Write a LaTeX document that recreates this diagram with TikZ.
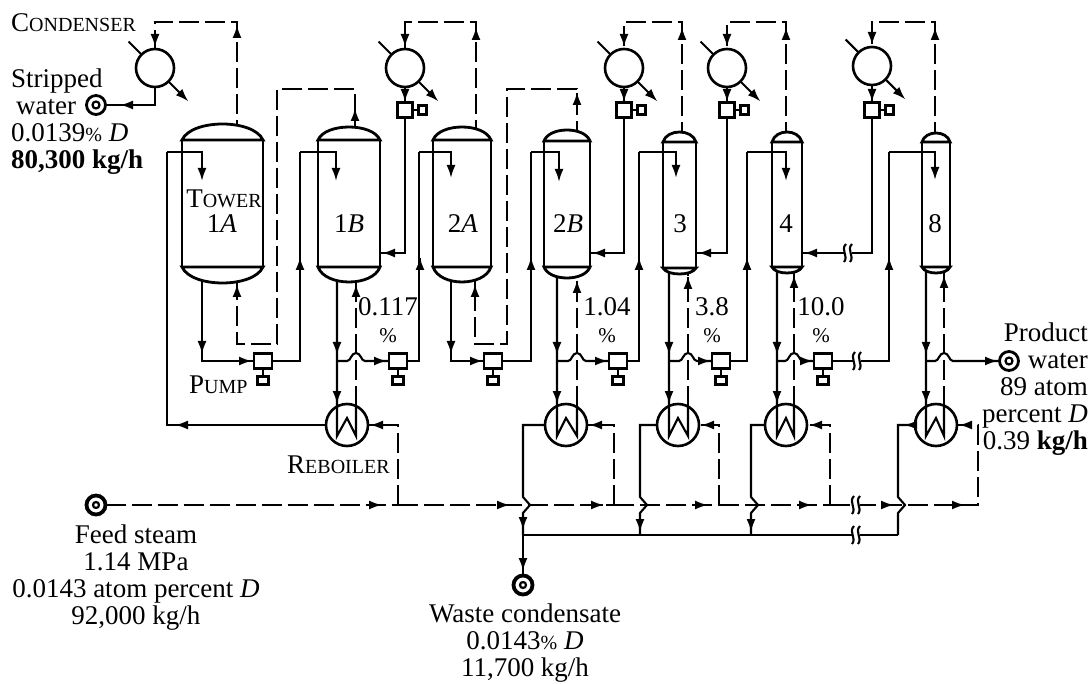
\documentclass[tikz,border=0pt]{standalone}
\usepackage{fontspec}
\setmainfont{Liberation Serif}
\usetikzlibrary{positioning, arrows.meta, backgrounds}
\newcommand{\capword}[2]{{\fontsize{27}{27}\selectfont #1\fontsize{20}{20}\selectfont #2}}
\newcommand{\pct}{{\fontsize{20}{20}\selectfont\%}}
\tikzset{
  pipe/.style={line width=2.1pt},
  steam/.style={line width=2.1pt, dash pattern=on 20pt off 6pt},
  head/.style={-{Latex[length=13pt,width=9pt]}, line width=2.1pt},
  shell/.style={line width=2.8pt, fill=white},
  towerbody/.style={draw, shell, inner sep=0pt, outer sep=0pt},
  vessel/.style={circle, draw, line width=2.6pt, inner sep=0pt, outer sep=0pt, minimum size=#1},
  pumpbox/.style={draw, line width=2.8pt, fill=white, inner sep=0pt, outer sep=0pt, minimum width=18pt, minimum height=15pt},
  motorbox/.style={draw, line width=2.8pt, fill=white, inner sep=0pt, outer sep=0pt, minimum width=11pt, minimum height=8pt},
  target/.style={circle, draw, line width=2.8pt, inner sep=0pt, outer sep=0pt, minimum size=19pt},
  bullseye/.style={circle, draw, line width=2.2pt, inner sep=0pt, minimum size=7pt},
  lbl/.style={font=\fontsize{27}{27}\selectfont, inner sep=0pt, anchor=base},
  block/.style={lbl, align=#1},
  gapmark/.pic={
    \fill[white] (-4,-8) rectangle (4,8);
    \draw[pipe] (-2,-9) .. controls (-8,-3) and (1,3) .. (-4,9);
    \draw[pipe] (4,-9) .. controls (-2,-3) and (7,3) .. (2,9);
  }
}

\begin{document}
\begin{tikzpicture}[x=1pt, y=-1pt]
  \useasboundingbox (0,0) rectangle (1092,684);

  % towers
  \foreach \nm/\xl/\xr/\yt/\yl/\yb/\yo/\xm/\lab in {
      1A/182/263/124/140/267/283/222/1\textit{A},
      1B/318/380/127/140/267/282/349/1\textit{B},
      2A/433/491/127/140/267/282/463/2\textit{A},
      2B/544/590/130/141/267/278/568/2\textit{B},
      3/663/696/132/142/268/274/680/3,
      4/772/802/132/142/267/273/786/4,
      8/922/950/133/142/267/273/935/8} {
    \pgfmathsetmacro{\dm}{(\yl-\yt)*4/3}
    \pgfmathsetmacro{\dn}{(\yo-\yb)*4/3}
    \pgfmathsetmacro{\dw}{(\xr-\xl)*0.12}
    \node[towerbody, minimum width={(\xr-\xl)*1pt}, minimum height={(\yb-\yl)*1pt}]
      (T\nm) at ({(\xl+\xr)/2},{(\yl+\yb)/2}) {};
    \draw[shell] (T\nm.north west) .. controls +(\dw,-\dm) and +(-\dw,-\dm) .. (T\nm.north east) -- cycle;
    \draw[shell] (T\nm.south west) .. controls +(\dw,\dn) and +(-\dw,\dn) .. (T\nm.south east) -- cycle;
    \node[lbl] (L\nm) at (\xm,233) {\lab};
  }
  \node[lbl] (Ltower) at (224,208) {\capword{T}{OWER}};

  % feed into the top of each tower
  \foreach \nm/\xf/\xa/\tp in {1A/167/202/181, 1B/300/336/181, 2A/419/451/178, 2B/531/559/182,
      3/639/676/178, 4/747/786/181, 8/889/935/180} {
    \coordinate (F\nm) at (\xf,152);
    \draw[head] (F\nm) -- (\xa,152) -- (\xa,\tp);
  }

  % pumps under the towers, pumps under the condensers
  \foreach \pn/\x in {P1/263, P2/398, P3/493, P4/618, P5/721, P6/823} {
    \node[pumpbox] (\pn) at (\x,361) {};
    \node[motorbox, below=8pt of \pn] (M\pn) {};
    \draw[pipe] (\pn) -- (M\pn);
  }
  \node[vessel=38pt] (C1A) at (155,68) {};
  \foreach \nm/\x/\y/\tn in {2A/405/68/1B, 3/624/68/2B, 4/727/68/3, 8/872/66/4} {
    \node[vessel=38pt] (C\nm) at (\x,\y) {};
    \node[pumpbox, minimum width=15pt] (Q\nm) at (\x,110) {};
    \node[motorbox, minimum width=8pt, minimum height=9pt, right=6pt of Q\nm] (N\nm) {};
    \draw[pipe] (Q\nm) -- (N\nm);
    \draw[pipe] (C\nm) -- (Q\nm);
    \begin{scope}[on background layer]
      \draw[pipe] (Q\nm) |- (T\tn.east |- 0,253);
    \end{scope}
  }
  \foreach \nm in {1A, 2A, 3, 4, 8} {
    \draw[pipe] (C\nm.135) -- +(-13,-13);
    \draw[head] (C\nm.-45) -- +(20,20);
  }

  % reboilers
  \foreach \nm/\x in {1B/347, 2B/566, 3/678, 4/786, 8/936}
    \node[vessel=42pt] (R\nm) at (\x,425) {};

  \node[target] (Stripped) at (96,105) {};
  \node[bullseye] (Strippedc) at (Stripped) {};
  \node[target] (Product) at (1009,361) {};
  \node[bullseye] (Productc) at (Product) {};
  \node[target, line width=3.8pt] (Feed) at (96,505) {};
  \node[bullseye, minimum size=6pt] (Feedc) at (Feed) {};
  \node[target, line width=3.8pt] (Waste) at (523,585) {};
  \node[bullseye, minimum size=6pt] (Wastec) at (Waste) {};

  \begin{scope}[on background layer]
    % tower bottoms through the reboilers
    \foreach \nm/\x/\xs/\xd in {1B/347/337/356, 2B/566/557/577, 3/678/669/688, 4/786/777/794, 8/936/926/944} {
      \draw[pipe] (\xs,0 |- T\nm.south) -- (\xs,436) -- (\x,418) -- (\xd,436) -- (\xd,406);
      \draw[steam] (\xd,406) -- (\xd,0 |- T\nm.south);
    }
    \foreach \xs/\xd/\dst in {337/356/P2, 557/577/P4, 669/688/P5, 777/794/P6, 926/944/Product}
      \draw[pipe] (\xs,361) -- ({\xd-9},361) .. controls ({\xd-5},361) and ({\xd-5},353) .. (\xd,353)
        .. controls ({\xd+5},353) and ({\xd+5},361) .. ({\xd+9},361) -- (\dst);
    \draw[pipe] (202,0 |- T1A.south) -- (202,361) -- (P1);
    \draw[pipe] (451,0 |- T2A.south) -- (451,361) -- (P3);
    \foreach \pn/\nm in {P1/1B, P2/2A, P3/2B, P4/3, P5/4, P6/8}
      \draw[pipe] (\pn) -| (F\nm);
    \draw[pipe] (R1B) -| (F1A);

    % overhead
    \draw[steam] (355,0 |- T1B.north) -- (355,89) -- (277,89) -- (277,344) -- (237,344) -- (237,0 |- T1A.south);
    \draw[steam] (577,0 |- T2B.north) -- (577,89) -- (507,89) -- (507,344) -- (475,344) -- (475,0 |- T2A.south);
    \foreach \nm/\cn/\x/\xc in {1A/1A/237/155, 2A/2A/476/405, 3/3/682/624, 4/4/786/727, 8/8/935/872}
      \draw[steam] (\x,0 |- T\nm.north) -- (\x,22) -- (\xc,22) -- (C\cn);
    \draw[pipe] (C1A) -- (155,105) -- (Stripped);

    % steam main
    \draw[steam] (Feed) -- (398,505);
    \foreach \xa/\xb in {398/614, 614/719, 719/830}
      \draw[steam] (\xa,505) -- (\xb,505);
    \draw[steam] (830,505) -- (978,505) -- (978,425) -- (R8);
    \foreach \x/\nm in {398/1B, 614/2B, 719/3, 830/4}
      \draw[steam] (\x,505) -- (\x,425) -- (R\nm);

    % condensate
    \foreach \x/\nm in {523/2B, 640/3, 751/4, 898/8}
      \draw[pipe] (R\nm) -- (\x,425) -- (\x,497) -- ({\x+7},505) -- (\x,513) -- (\x,535);
    \draw[pipe] (523,535) -- (898,535);
    \draw[pipe] (523,535) -- (Waste);
  \end{scope}

  % arrowheads along the lines
  \foreach \hx/\hy in {237/25, 476/27, 682/27, 786/27, 935/27, 355/108, 577/92, 237/284, 356/284, 475/284,
      577/280, 688/276, 794/275, 944/275, 300/257, 420/257, 531/257, 639/257, 747/257, 889/257}
    \draw[head] (\hx,{\hy+1}) -- (\hx,\hy);
  \foreach \hx/\hy in {155/47, 405/47, 624/47, 727/47, 872/45, 405/102, 624/102, 727/102, 872/102,
      202/354, 451/354, 337/355, 557/355, 669/355, 777/355, 926/355, 337/404, 557/404, 669/404, 777/404, 926/404,
      523/530, 640/532, 751/532, 523/571}
    \draw[head] (\hx,{\hy-1}) -- (\hx,\hy);
  \foreach \hx/\hy in {120/105, 382/253, 592/253, 698/253, 804/253, 175/425, 904/425,
      370/425, 589/425, 701/425, 809/425, 959/425}
    \draw[head] ({\hx+1},\hy) -- (\hx,\hy);
  \foreach \hx/\hy in {252/361, 387/361, 483/361, 608/361, 711/361, 813/361, 998/361,
      382/505, 510/505, 604/505, 708/505, 812/505, 894/505, 965/505}
    \draw[head] ({\hx-1},\hy) -- (\hx,\hy);

  % line breaks
  \pic (gapa) at (848,253) {gapmark};
  \pic (gapb) at (857,361) {gapmark};
  \pic (gapc) at (856,505) {gapmark};
  \pic (gapd) at (856,535) {gapmark};

  % labels
  \node[lbl, anchor=base west] (Lcondenser) at (11,32) {\capword{C}{ONDENSER}};
  \node[lbl, anchor=base west] (Lpump) at (189,393) {\capword{P}{UMP}};
  \node[lbl, anchor=base west] (Lreboiler) at (287,473) {\capword{R}{EBOILER}};
  \foreach \nn/\x/\val in {a/388/0.117, b/607/1.04, c/712/3.8, d/821/10.0} {
    \node[lbl] (N\nn) at (\x,316) {\val};
    \node[lbl, font=\fontsize{21}{21}\selectfont] (Np\nn) at (\x,343) {\%};
  }
  \node[block=left, anchor=north west] (Lstripped) at (11,69)
    {Stripped\\\hspace{5pt}water\\0.0139\pct{} \textit{D}\\\textbf{80,300 kg/h}};
  \node[block=center, anchor=north] (Lfeed) at (136,525)
    {Feed steam\\1.14 MPa\\0.0143 atom percent \textit{D}\\92,000 kg/h};
  \node[block=center, anchor=north] (Lwaste) at (525,604)
    {Waste condensate\\0.0143\pct{} \textit{D}\\11,700 kg/h};
  \node[block=right, anchor=north east] (Lproduct) at (1088,323)
    {Product\\water\\89 atom\\percent \textit{D}\\0.39 \textbf{kg/h}};
\end{tikzpicture}
\end{document}
